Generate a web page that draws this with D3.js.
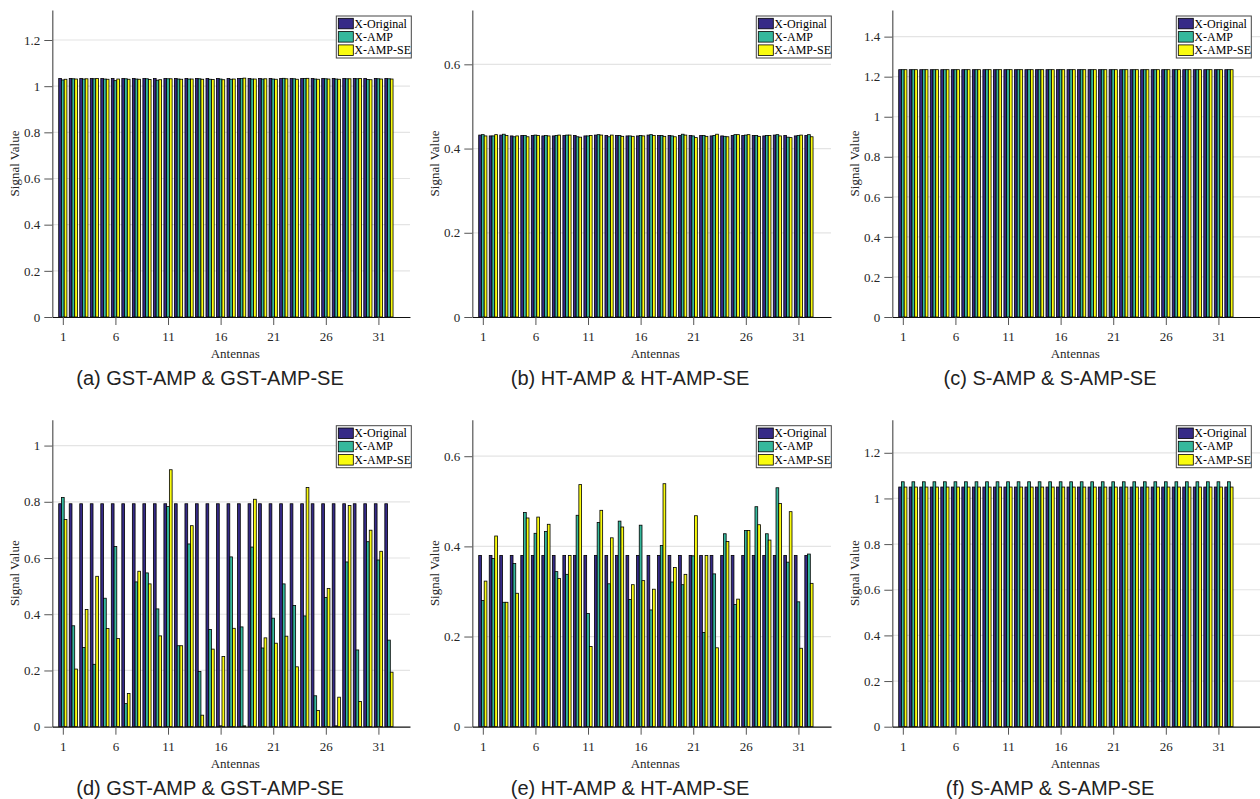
<!DOCTYPE html>
<html>
<head>
<meta charset="utf-8">
<script src="https://cdn.jsdelivr.net/npm/d3@7"></script>
<style>
  body { margin: 0; background: #fff; }
  svg { display: block; }
</style>
</head>
<body>
<script>

// ---- data ----
var antennas = d3.range(1, 33);
var xTickValues = [1, 6, 11, 16, 21, 26, 31];
var seriesNames = ["X-Original", "X-AMP", "X-AMP-SE"];

// (a) GST-AMP & GST-AMP-SE, noiseless
var a_orig = [1.033,1.033,1.033,1.033,1.033,1.033,1.033,1.033,1.033,1.033,1.033,1.033,1.033,1.033,1.033,1.033,
              1.033,1.033,1.033,1.033,1.033,1.033,1.033,1.033,1.033,1.033,1.033,1.033,1.033,1.033,1.033,1.033];
var a_amp  = [1.027,1.032,1.031,1.032,1.031,1.024,1.032,1.031,1.032,1.026,1.032,1.031,1.031,1.032,1.030,1.031,
              1.030,1.033,1.031,1.031,1.031,1.034,1.032,1.033,1.031,1.032,1.031,1.032,1.032,1.029,1.032,1.032];
var a_se   = [1.030,1.031,1.032,1.033,1.030,1.031,1.030,1.030,1.029,1.028,1.032,1.030,1.031,1.030,1.029,1.028,
              1.031,1.035,1.031,1.032,1.030,1.032,1.030,1.034,1.030,1.031,1.030,1.032,1.033,1.028,1.031,1.031];
var a_yTicks = [0, 0.2, 0.4, 0.6, 0.8, 1, 1.2];

// (b) HT-AMP & HT-AMP-SE
var b_orig = [0.432,0.430,0.432,0.430,0.431,0.431,0.430,0.430,0.431,0.431,0.430,0.432,0.431,0.431,0.430,0.430,
              0.432,0.431,0.431,0.431,0.431,0.431,0.430,0.430,0.431,0.431,0.431,0.430,0.432,0.431,0.430,0.431];
var b_amp  = [0.433,0.430,0.434,0.428,0.431,0.432,0.431,0.431,0.432,0.428,0.430,0.433,0.428,0.431,0.430,0.431,
              0.433,0.431,0.430,0.434,0.430,0.431,0.431,0.429,0.433,0.432,0.431,0.431,0.433,0.427,0.431,0.433];
var b_se   = [0.430,0.433,0.431,0.430,0.428,0.431,0.430,0.432,0.432,0.427,0.431,0.432,0.432,0.429,0.429,0.430,
              0.431,0.429,0.428,0.432,0.426,0.429,0.434,0.428,0.433,0.433,0.429,0.431,0.430,0.426,0.432,0.428];
var b_yTicks = [0, 0.2, 0.4, 0.6];

// (c) S-AMP & S-AMP-SE
var c_orig = [1.235,1.235,1.235,1.235,1.235,1.235,1.235,1.235,1.235,1.235,1.235,1.235,1.235,1.235,1.235,1.235,
              1.235,1.235,1.235,1.235,1.235,1.235,1.235,1.235,1.235,1.235,1.235,1.235,1.235,1.235,1.235,1.235];
var c_amp  = [1.235,1.235,1.235,1.235,1.235,1.235,1.235,1.235,1.235,1.235,1.235,1.235,1.235,1.235,1.235,1.235,
              1.235,1.235,1.235,1.235,1.235,1.235,1.235,1.235,1.235,1.235,1.235,1.235,1.235,1.235,1.235,1.235];
var c_se   = [1.235,1.235,1.235,1.235,1.235,1.235,1.235,1.235,1.235,1.235,1.235,1.235,1.235,1.235,1.235,1.235,
              1.235,1.235,1.235,1.235,1.235,1.235,1.235,1.235,1.235,1.235,1.235,1.235,1.235,1.235,1.235,1.235];
var c_yTicks = [0, 0.2, 0.4, 0.6, 0.8, 1, 1.2, 1.4];

// (d) GST-AMP & GST-AMP-SE, noisy
var d_orig = [0.793,0.793,0.793,0.793,0.793,0.793,0.793,0.793,0.793,0.793,0.793,0.793,0.793,0.793,0.793,0.793,
              0.793,0.793,0.793,0.793,0.793,0.793,0.793,0.793,0.793,0.793,0.793,0.793,0.793,0.793,0.793,0.793];
var d_amp  = [0.815,0.359,0.282,0.222,0.457,0.641,0.082,0.515,0.547,0.419,0.783,0.288,0.650,0.196,0.346,0.003,
              0.604,0.355,0.639,0.280,0.386,0.508,0.431,0.394,0.110,0.460,0.003,0.586,0.273,0.658,0.593,0.308];
var d_se   = [0.737,0.205,0.417,0.535,0.349,0.314,0.118,0.553,0.508,0.323,0.914,0.288,0.715,0.041,0.276,0.250,
              0.350,0.003,0.809,0.316,0.297,0.322,0.213,0.851,0.058,0.492,0.105,0.787,0.090,0.699,0.624,0.194];
var d_yTicks = [0, 0.2, 0.4, 0.6, 0.8, 1];

// (e) HT-AMP & HT-AMP-SE, noisy
var e_orig = [0.380,0.380,0.380,0.380,0.380,0.380,0.380,0.380,0.380,0.380,0.380,0.380,0.380,0.380,0.380,0.380,
              0.380,0.380,0.380,0.380,0.380,0.380,0.380,0.380,0.380,0.380,0.380,0.380,0.380,0.380,0.380,0.380];
var e_amp  = [0.280,0.373,0.276,0.362,0.475,0.429,0.433,0.344,0.338,0.469,0.251,0.453,0.317,0.456,0.282,0.447,
              0.259,0.402,0.321,0.315,0.379,0.209,0.339,0.428,0.271,0.435,0.488,0.428,0.530,0.365,0.277,0.383];
var e_se   = [0.323,0.423,0.276,0.296,0.463,0.465,0.449,0.329,0.380,0.537,0.178,0.480,0.419,0.443,0.315,0.324,
              0.305,0.539,0.353,0.338,0.468,0.380,0.175,0.411,0.283,0.435,0.448,0.414,0.495,0.477,0.174,0.318];
var e_yTicks = [0, 0.2, 0.4, 0.6];

// (f) S-AMP & S-AMP-SE, noisy
var f_orig = [1.050,1.050,1.050,1.050,1.050,1.050,1.050,1.050,1.050,1.050,1.050,1.050,1.050,1.050,1.050,1.050,
              1.050,1.050,1.050,1.050,1.050,1.050,1.050,1.050,1.050,1.050,1.050,1.050,1.050,1.050,1.050,1.050];
var f_amp  = [1.073,1.073,1.073,1.073,1.073,1.073,1.073,1.073,1.073,1.073,1.073,1.073,1.073,1.073,1.073,1.073,
              1.073,1.073,1.073,1.073,1.073,1.073,1.073,1.073,1.073,1.073,1.073,1.073,1.073,1.073,1.073,1.073];
var f_se   = [1.050,1.050,1.050,1.050,1.050,1.050,1.050,1.050,1.050,1.050,1.050,1.050,1.050,1.050,1.050,1.050,
              1.050,1.050,1.050,1.050,1.050,1.050,1.050,1.050,1.050,1.050,1.050,1.050,1.050,1.050,1.050,1.050];
var f_yTicks = [0, 0.2, 0.4, 0.6, 0.8, 1, 1.2];

var captions = ["(a) GST-AMP & GST-AMP-SE", "(b) HT-AMP & HT-AMP-SE", "(c) S-AMP & S-AMP-SE",
                "(d) GST-AMP & GST-AMP-SE", "(e) HT-AMP & HT-AMP-SE", "(f) S-AMP & S-AMP-SE"];

// ---- layout / style ----
var width = 1260, height = 799;
var colors = ["#352a87", "#35b89c", "#f9fb0e"];
var serif = "'Liberation Serif', 'Times New Roman', serif";
var sans = "'Liberation Sans', Arial, Helvetica, sans-serif";
var unit = 10.52;       // px per antenna
var barW = 0.26;        // bar width in antenna units

var panels = [
    {series: [a_orig, a_amp, a_se], yTicks: a_yTicks, ymax: 1.33,  xmax: 34,   col: 0, row: 0},
    {series: [b_orig, b_amp, b_se], yTicks: b_yTicks, ymax: 0.729, xmax: 34.1, col: 1, row: 0},
    {series: [c_orig, c_amp, c_se], yTicks: c_yTicks, ymax: 1.533, xmax: 35,   col: 2, row: 0},
    {series: [d_orig, d_amp, d_se], yTicks: d_yTicks, ymax: 1.092, xmax: 34,   col: 0, row: 1},
    {series: [e_orig, e_amp, e_se], yTicks: e_yTicks, ymax: 0.681, xmax: 34.1, col: 1, row: 1},
    {series: [f_orig, f_amp, f_se], yTicks: f_yTicks, ymax: 1.345, xmax: 35,   col: 2, row: 1}
];

var svg = d3.select("body").append("svg")
    .attr("width", width)
    .attr("height", height);

function fmt(v) {
    return String(+v.toFixed(1));
}

panels.forEach(function (p, k) {
    var ox = p.col * 420, oy = p.row * 409.7;
    var left = ox + 52.3, top = oy + 10, bottom = oy + 317;

    var x = d3.scaleLinear().domain([0, p.xmax]).range([left, left + p.xmax * unit]);
    var y = d3.scaleLinear().domain([0, p.ymax]).range([bottom, top]);
    var right = Math.min(x(p.xmax), width);

    var g = svg.append("g");

    // grid
    g.selectAll("line.grid")
        .data(p.yTicks.filter(function (v) { return v > 0; }))
        .enter()
        .append("line")
        .attr("class", "grid")
        .attr("x1", left).attr("x2", right)
        .attr("y1", function (d) { return y(d); })
        .attr("y2", function (d) { return y(d); })
        .attr("stroke", "#e4e4e4")
        .attr("stroke-width", 1.2);

    // bars
    p.series.forEach(function (vals, s) {
        g.append("g")
            .selectAll("rect")
            .data(vals)
            .enter()
            .append("rect")
            .attr("x", function (d, i) { return x(antennas[i] + (s - 1.5) * barW); })
            .attr("width", x(barW) - x(0))
            .attr("y", function (d) { return y(d); })
            .attr("height", function (d) { return y(0) - y(d); })
            .attr("fill", colors[s])
            .attr("stroke", "#000")
            .attr("stroke-width", 0.8);
    });

    // y axis
    var ya = g.append("g")
        .attr("transform", "translate(" + left + ",0)")
        .call(d3.axisLeft(y).tickValues(p.yTicks).tickSize(8).tickSizeOuter(0)
              .tickPadding(4).tickFormat(fmt));
    ya.select(".domain").attr("stroke", "#555").attr("stroke-width", 1.2);
    ya.selectAll(".tick line").attr("stroke", "#555");
    ya.selectAll("text")
        .attr("font-family", serif)
        .attr("font-size", 13)
        .attr("fill", "#262626");

    // x axis
    var xa = g.append("g")
        .attr("transform", "translate(0," + bottom + ")")
        .call(d3.axisBottom(x).tickValues(xTickValues).tickSize(8).tickSizeOuter(0)
              .tickPadding(7));
    xa.select(".domain").attr("stroke", "#111").attr("stroke-width", 1.2);
    xa.selectAll(".tick line").attr("stroke", "#555");
    xa.selectAll("text")
        .attr("font-family", serif)
        .attr("font-size", 13)
        .attr("fill", "#262626");

    // axis labels
    g.append("text")
        .attr("x", left + 183)
        .attr("y", bottom + 41)
        .attr("text-anchor", "middle")
        .attr("font-family", serif)
        .attr("font-size", 13)
        .attr("fill", "#262626")
        .text("Antennas");

    g.append("text")
        .attr("transform", "translate(" + (ox + 19) + "," + ((top + bottom) / 2) + ") rotate(-90)")
        .attr("text-anchor", "middle")
        .attr("font-family", serif)
        .attr("font-size", 13)
        .attr("fill", "#262626")
        .text("Signal Value");

    // legend
    var lg = g.append("g").attr("transform", "translate(" + (left + 284) + "," + (top + 6) + ")");
    lg.append("rect")
        .attr("width", 75).attr("height", 42)
        .attr("fill", "#fff")
        .attr("stroke", "#444")
        .attr("stroke-width", 1);
    seriesNames.forEach(function (name, s) {
        lg.append("rect")
            .attr("x", 2).attr("y", 2.3 + s * 13.3)
            .attr("width", 15).attr("height", 10.5)
            .attr("fill", colors[s])
            .attr("stroke", "#000")
            .attr("stroke-width", 0.8);
        lg.append("text")
            .attr("x", 18).attr("y", 11.5 + s * 13.3)
            .attr("font-family", serif)
            .attr("font-size", 12)
            .attr("fill", "#000")
            .text(name);
    });

    // caption
    svg.append("text")
        .attr("x", ox + 210)
        .attr("y", oy + 385)
        .attr("text-anchor", "middle")
        .attr("font-family", sans)
        .attr("font-size", 20)
        .attr("fill", "#222")
        .text(captions[k]);
});

</script>
</body>
</html>
